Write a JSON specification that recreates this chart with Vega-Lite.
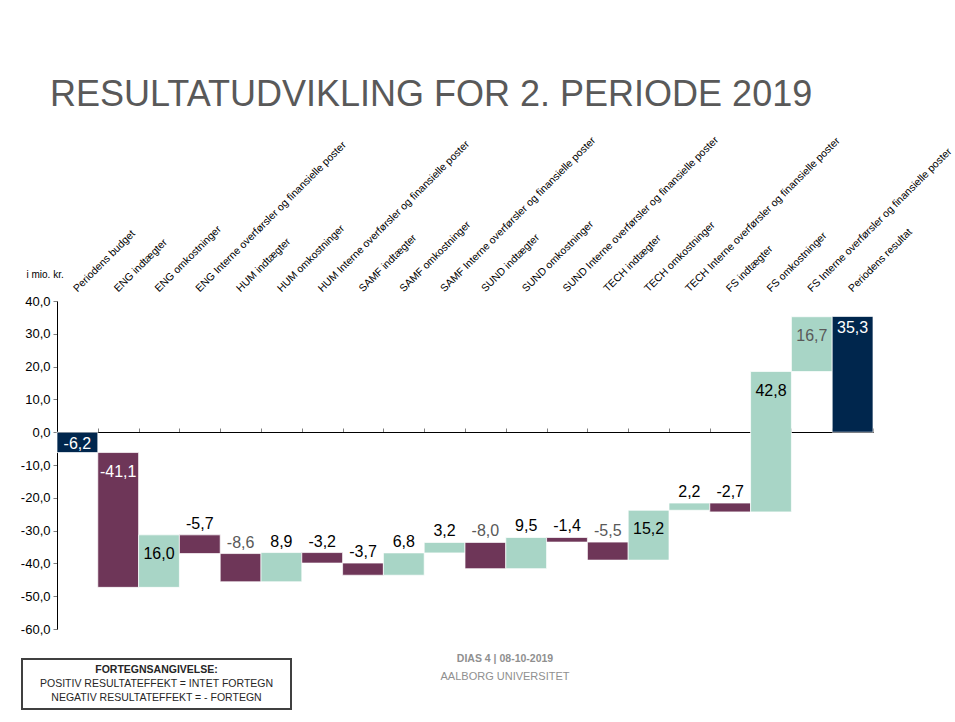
{
  "$schema": "https://vega.github.io/schema/vega-lite/v6.json",
  "background": "white",
  "padding": {"left": 20, "top": 77, "right": 0, "bottom": 0},
  "config": {
    "view": {"stroke": null},
    "font": "Liberation Sans",
    "locale": {"number": {"decimal": ",", "thousands": ".", "grouping": [3], "currency": ["", " kr."], "minus": "-"}}
  },
  "datasets": {
    "bars": [
      {"nr": 1, "cat": "Periodens budget", "value": -6.2, "hi": 0, "lo": -6.2, "kind": "total"},
      {"nr": 2, "cat": "ENG indtægter", "value": -41.1, "hi": -6.2, "lo": -47.3, "kind": "neg"},
      {"nr": 3, "cat": "ENG omkostninger", "value": 16.0, "hi": -31.3, "lo": -47.3, "kind": "pos"},
      {"nr": 4, "cat": "ENG Interne overførsler og finansielle poster", "value": -5.7, "hi": -31.3, "lo": -37.0, "kind": "neg"},
      {"nr": 5, "cat": "HUM indtægter", "value": -8.6, "hi": -37.0, "lo": -45.6, "kind": "neg"},
      {"nr": 6, "cat": "HUM omkostninger", "value": 8.9, "hi": -36.7, "lo": -45.6, "kind": "pos"},
      {"nr": 7, "cat": "HUM Interne overførsler og finansielle poster", "value": -3.2, "hi": -36.7, "lo": -39.9, "kind": "neg"},
      {"nr": 8, "cat": "SAMF indtægter", "value": -3.7, "hi": -39.9, "lo": -43.6, "kind": "neg"},
      {"nr": 9, "cat": "SAMF omkostninger", "value": 6.8, "hi": -36.8, "lo": -43.6, "kind": "pos"},
      {"nr": 10, "cat": "SAMF Interne overførsler og finansielle poster", "value": 3.2, "hi": -33.6, "lo": -36.8, "kind": "pos"},
      {"nr": 11, "cat": "SUND indtægter", "value": -8.0, "hi": -33.6, "lo": -41.6, "kind": "neg"},
      {"nr": 12, "cat": "SUND omkostninger", "value": 9.5, "hi": -32.1, "lo": -41.6, "kind": "pos"},
      {"nr": 13, "cat": "SUND Interne overførsler og finansielle poster", "value": -1.4, "hi": -32.1, "lo": -33.5, "kind": "neg"},
      {"nr": 14, "cat": "TECH indtægter", "value": -5.5, "hi": -33.5, "lo": -39.0, "kind": "neg"},
      {"nr": 15, "cat": "TECH omkostninger", "value": 15.2, "hi": -23.8, "lo": -39.0, "kind": "pos"},
      {"nr": 16, "cat": "TECH Interne overførsler og finansielle poster", "value": 2.2, "hi": -21.6, "lo": -23.8, "kind": "pos"},
      {"nr": 17, "cat": "FS indtægter", "value": -2.7, "hi": -21.6, "lo": -24.3, "kind": "neg"},
      {"nr": 18, "cat": "FS omkostninger", "value": 42.8, "hi": 18.5, "lo": -24.3, "kind": "pos"},
      {"nr": 19, "cat": "FS Interne overførsler og finansielle poster", "value": 16.7, "hi": 35.2, "lo": 18.5, "kind": "pos"},
      {"nr": 20, "cat": "Periodens resultat", "value": 35.3, "hi": 35.3, "lo": 0, "kind": "total"}
    ],
    "legend": [
      {"line": 1, "text": "FORTEGNSANGIVELSE:"},
      {"line": 2, "text": "POSITIV RESULTATEFFEKT = INTET FORTEGN"},
      {"line": 3, "text": "NEGATIV RESULTATEFFEKT = - FORTEGN"}
    ],
    "footer": [
      {"line": 1, "text": "DIAS 4 | 08-10-2019"},
      {"line": 2, "text": "AALBORG UNIVERSITET"}
    ]
  },
  "spacing": 18,
  "vconcat": [
    {
      "spacing": -3,
      "hconcat": [
        {
          "width": 1,
          "height": 10,
          "data": {"name": "footer"},
          "mark": {"type": "text", "text": "", "opacity": 0},
          "encoding": {}
        },
        {
          "width": 816,
          "height": 328,
          "title": {
            "text": "RESULTATUDVIKLING FOR 2. PERIODE 2019",
            "anchor": "start",
            "frame": "group",
            "dx": -7,
            "offset": 20,
            "fontSize": 36,
            "fontWeight": "normal",
            "font": "Liberation Sans",
            "color": "#595959"
          },
          "data": {"name": "bars"},
          "resolve": {"axis": {"x": "independent"}},
          "encoding": {
            "y": {
              "field": "hi", "type": "quantitative",
              "scale": {"domain": [-60, 40], "nice": false, "zero": false},
              "axis": {
                "title": "i mio. kr.", "titleAngle": 0, "titleAlign": "left", "titleBaseline": "middle",
                "titleX": -31, "titleY": -27, "titleFontSize": 10, "titleFontWeight": "normal", "titleColor": "black",
                "format": ".1f", "values": [-60, -50, -40, -30, -20, -10, 0, 10, 20, 30, 40],
                "labelOverlap": false,
                "grid": false, "domainColor": "black", "tickColor": "#7f7f7f", "tickSize": 4,
                "labelFontSize": 13, "labelColor": "black", "labelPadding": 3
              }
            }
          },
          "layer": [
            {
              "mark": {"type": "bar", "stroke": "white", "strokeWidth": 1, "strokeOpacity": 0.7},
              "encoding": {
                "x": {
                  "field": "cat", "type": "nominal",
                  "sort": {"field": "nr", "op": "min"},
                  "scale": {"paddingInner": 0, "paddingOuter": 0},
                  "axis": {
                    "orient": "top", "title": null, "domain": false, "ticks": false,
                    "labelAngle": -45, "labelAlign": "left", "labelBaseline": "alphabetic",
                    "labelPadding": 9, "labelFontSize": 10.5, "labelColor": "black",
                    "labelLimit": 400, "labelOverlap": false, "labelFont": "Liberation Sans"
                  }
                },
                "y2": {"field": "lo"},
                "color": {
                  "field": "kind", "type": "nominal",
                  "scale": {"domain": ["total", "neg", "pos"], "range": ["#00264D", "#6E3658", "#A8D5C6"]},
                  "legend": null
                }
              }
            },
            {
              "transform": [{"filter": "datum.kind === 'total'"}],
              "mark": {"type": "text", "baseline": "top", "dy": 4, "fontSize": 16, "color": "white"},
              "encoding": {
                "x": {
                  "field": "cat", "type": "nominal",
                  "sort": {"field": "nr", "op": "min"},
                  "axis": {
                    "orient": "top", "offset": -131, "title": null, "labels": false,
                    "domain": true, "domainColor": "black", "domainWidth": 1,
                    "ticks": true, "tickBand": "extent", "tickColor": "#808080", "tickSize": 4
                  }
                },
                "text": {"field": "value", "type": "quantitative", "format": ".1f"}
              }
            },
            {
              "transform": [{"filter": "datum.kind !== 'total' && abs(datum.value) >= 15"}],
              "mark": {"type": "text", "baseline": "top", "dy": 11, "fontSize": 16},
              "encoding": {
                "x": {"field": "cat", "type": "nominal", "sort": {"field": "nr", "op": "min"}, "axis": null},
                "text": {"field": "value", "type": "quantitative", "format": ".1f"},
                "color": {
                  "condition": [
                    {"test": "datum.kind === 'neg'", "value": "white"},
                    {"test": "datum.cat === 'FS Interne overførsler og finansielle poster'", "value": "#595959"}
                  ],
                  "value": "black"
                }
              }
            },
            {
              "transform": [{"filter": "datum.kind !== 'total' && abs(datum.value) < 15"}],
              "mark": {"type": "text", "baseline": "bottom", "dy": -3, "fontSize": 16},
              "encoding": {
                "x": {"field": "cat", "type": "nominal", "sort": {"field": "nr", "op": "min"}, "axis": null},
                "text": {"field": "value", "type": "quantitative", "format": ".1f"},
                "color": {
                  "condition": {"test": "indexof(['HUM indtægter', 'SUND indtægter', 'TECH indtægter'], datum.cat) >= 0", "value": "#595959"},
                  "value": "black"
                }
              }
            }
          ]
        }
      ]
    },
    {
      "spacing": 0,
      "hconcat": [
        {
          "width": 269,
          "height": 50,
          "view": {"stroke": "#404040", "strokeWidth": 2},
          "data": {"name": "legend"},
          "layer": [
            {
              "transform": [{"filter": "datum.line === 1"}],
              "mark": {"type": "text", "fontWeight": "bold", "fontSize": 10.5, "color": "#262626"},
              "encoding": {
                "y": {"field": "line", "type": "ordinal", "scale": {"type": "point", "padding": 0.85}, "axis": null},
                "text": {"field": "text"}
              }
            },
            {
              "transform": [{"filter": "datum.line > 1"}],
              "mark": {"type": "text", "fontSize": 10.5, "color": "#262626"},
              "encoding": {
                "y": {"field": "line", "type": "ordinal", "scale": {"type": "point", "padding": 0.85}, "axis": null},
                "text": {"field": "text"}
              }
            }
          ]
        },
        {
          "width": 426,
          "height": 18,
          "data": {"name": "footer"},
          "layer": [
            {
              "transform": [{"filter": "datum.line === 1"}],
              "mark": {"type": "text", "fontWeight": "bold", "fontSize": 10.5, "color": "#8f8f8f"},
              "encoding": {
                "y": {"field": "line", "type": "ordinal", "scale": {"type": "point", "padding": 0}, "axis": null},
                "text": {"field": "text"}
              }
            },
            {
              "transform": [{"filter": "datum.line > 1"}],
              "mark": {"type": "text", "fontSize": 11, "color": "#8f8f8f"},
              "encoding": {
                "y": {"field": "line", "type": "ordinal", "scale": {"type": "point", "padding": 0}, "axis": null},
                "text": {"field": "text"}
              }
            }
          ]
        }
      ]
    }
  ]
}
